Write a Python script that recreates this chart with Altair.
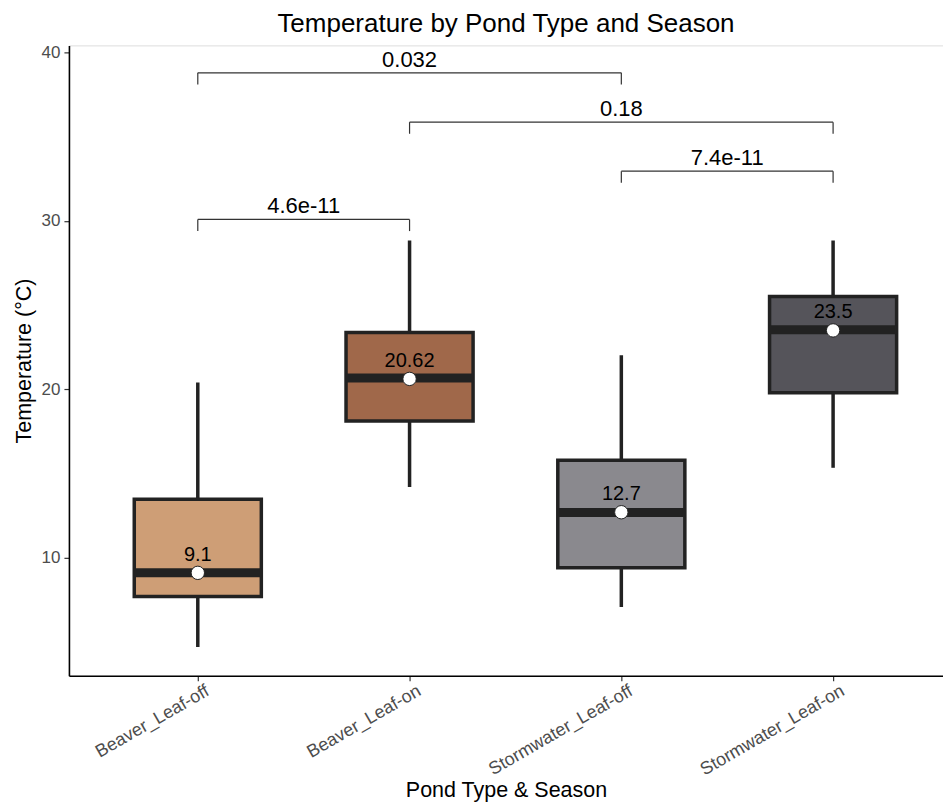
import altair as alt
import pandas as pd

categories = ["Beaver_Leaf-off", "Beaver_Leaf-on", "Stormwater_Leaf-off", "Stormwater_Leaf-on"]
lower = [4.7, 14.2, 7.07, 15.34]
q1 = [7.7, 18.12, 9.4, 19.8]
median = [9.1, 20.68, 12.68, 23.54]
q3 = [13.47, 23.37, 15.79, 25.52]
upper = [20.4, 28.84, 22.02, 28.84]
means = [9.1, 20.62, 12.7, 23.5]
mean_labels = ["9.1", "20.62", "12.7", "23.5"]
colors = ["#CE9E76", "#A0684A", "#8A898E", "#55545A"]

bracket_from = [0, 1, 2, 0]
bracket_to = [1, 3, 3, 2]
bracket_y = [30.09, 35.87, 32.96, 38.8]
bracket_labels = ["4.6e-11", "0.18", "7.4e-11", "0.032"]
bracket_drop = 0.69

FONT = "Liberation Sans"

box = pd.DataFrame({
    "idx": list(range(len(categories))),
    "cat": categories,
    "lower": lower, "q1": q1, "median": median, "q3": q3, "upper": upper,
    "mean": means, "mlabel": mean_labels,
})
br = pd.DataFrame({"a": bracket_from, "b": bracket_to, "y": bracket_y, "label": bracket_labels})
br["mid"] = (br["a"] + br["b"]) / 2
br["ylow"] = br["y"] - bracket_drop

xscale = alt.Scale(domain=[-0.6085, 3.519], nice=False, zero=False)
yscale = alt.Scale(domain=[2.99, 40.43], nice=False, zero=False)

label_expr = "[" + ",".join(f"'{c}'" for c in categories) + "][datum.value]"

xaxis = alt.Axis(values=[0, 1, 2, 3], labelExpr=label_expr, title="Pond Type & Season",
                 grid=False, domainColor="#000000", domainWidth=1.6, tickColor="#333333",
                 tickSize=5, tickWidth=1.2, labelAngle=330, labelAlign="right", labelBaseline="top",
                 labelColor="#4D4D4D", labelFontSize=18, labelFont=FONT, labelPadding=1,
                 labelOffset=5,
                 titleFont=FONT, titleFontSize=21.5, titleFontWeight="normal", titleColor="#000000",
                 titlePadding=1)
yaxis = alt.Axis(values=[10, 20, 30, 40], title="Temperature (°C)", grid=False,
                 domainColor="#000000", domainWidth=1.6, tickColor="#333333", tickSize=5,
                 tickWidth=1.2, labelColor="#4D4D4D", labelFontSize=17, labelFont=FONT,
                 labelPadding=4, titleFont=FONT, titleFontSize=21.5, titleFontWeight="normal",
                 titleColor="#000000", titlePadding=6)

base = alt.Chart(box)

whisker = base.mark_rule(color="#222222", strokeWidth=3.5).encode(
    x=alt.X("idx:Q", scale=xscale, axis=xaxis),
    y=alt.Y("lower:Q", scale=yscale, axis=yaxis),
    y2="upper:Q",
)

boxes = base.transform_calculate(
    x1="datum.idx - 0.3", x2="datum.idx + 0.3"
).mark_rect(stroke="#222222", strokeWidth=3.5).encode(
    x=alt.X("x1:Q", scale=xscale),
    x2="x2:Q",
    y=alt.Y("q1:Q", scale=yscale),
    y2="q3:Q",
    color=alt.Color("cat:N", scale=alt.Scale(domain=categories, range=colors), legend=None),
)

med = base.transform_calculate(
    x1="datum.idx - 0.3", x2="datum.idx + 0.3"
).mark_rule(color="#222222", strokeWidth=9).encode(
    x=alt.X("x1:Q", scale=xscale),
    x2="x2:Q",
    y=alt.Y("median:Q", scale=yscale),
)

pts = base.mark_point(filled=True, fill="white", stroke="#222222", strokeWidth=1,
                      size=180, opacity=1, shape="circle").encode(
    x=alt.X("idx:Q", scale=xscale),
    y=alt.Y("mean:Q", scale=yscale),
)

mtext = base.mark_text(font=FONT, fontSize=20, color="#000000", baseline="alphabetic", dy=-12).encode(
    x=alt.X("idx:Q", scale=xscale),
    y=alt.Y("mean:Q", scale=yscale),
    text="mlabel:N",
)

bb = alt.Chart(br)
hline = bb.mark_rule(color="#333333", strokeWidth=1.2).encode(
    x=alt.X("a:Q", scale=xscale), x2="b:Q", y=alt.Y("y:Q", scale=yscale))
lleg = bb.mark_rule(color="#333333", strokeWidth=1.2).encode(
    x=alt.X("a:Q", scale=xscale), y=alt.Y("y:Q", scale=yscale), y2="ylow:Q")
rleg = bb.mark_rule(color="#333333", strokeWidth=1.2).encode(
    x=alt.X("b:Q", scale=xscale), y=alt.Y("y:Q", scale=yscale), y2="ylow:Q")
btext = bb.mark_text(font=FONT, fontSize=22, color="#000000", baseline="alphabetic", dy=-6).encode(
    x=alt.X("mid:Q", scale=xscale), y=alt.Y("y:Q", scale=yscale), text="label:N")

chart = alt.layer(whisker, boxes, med, pts, mtext, hline, lleg, rleg, btext).properties(
    width=875, height=631,
    padding={"left": 5, "top": 2, "right": 0, "bottom": 0},
    title=alt.TitleParams("Temperature by Pond Type and Season", font=FONT, fontSize=26,
                          fontWeight="normal", color="#000000", anchor="middle", offset=7),
).configure_view(stroke=None).configure(background="white")

chart.save("out.html", embed_options={"renderer": "svg", "actions": False})
